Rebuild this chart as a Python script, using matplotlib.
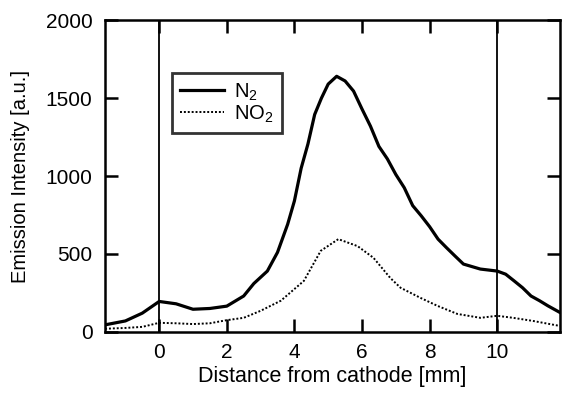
import matplotlib
matplotlib.use("Agg")
import matplotlib.pyplot as plt
import numpy as np

plt.rcParams['font.family'] = ['Liberation Sans', 'DejaVu Sans']
plt.rcParams['mathtext.fontset'] = 'custom'
plt.rcParams['mathtext.rm'] = 'Liberation Sans'

# N2 emission profile
n2_x = [-1.6, -1.0, -0.5, 0, 0.5, 1, 1.5, 2, 2.5, 2.8, 3.2, 3.5, 3.8, 4, 4.2, 4.4, 4.6, 4.8,
        5, 5.25, 5.5, 5.75, 6, 6.25, 6.5, 6.75, 7, 7.25, 7.5, 7.75, 8, 8.25, 8.5, 8.75,
        9, 9.5, 10, 10.25, 10.5, 10.75, 11, 11.25, 11.5, 11.85]
n2_y = [45, 70, 120, 195, 180, 145, 150, 165, 230, 310, 390, 510, 690, 840, 1050, 1205, 1395, 1500,
        1590, 1640, 1610, 1545, 1430, 1320, 1190, 1110, 1010, 925, 810, 745, 675, 595, 540, 487,
        435, 403, 390, 370, 327, 283, 230, 200, 167, 125]

# NO2 emission profile
no2_x = [-1.6, -1.0, -0.5, 0, 0.5, 1, 1.5, 2, 2.5, 3, 3.6, 4.28, 4.78, 5.3, 5.87, 6.34, 6.84,
         7.14, 7.73, 8.23, 8.82, 9.5, 10, 10.47, 11.06, 11.85]
no2_y = [20, 25, 32, 58, 55, 50, 55, 75, 90, 135, 200, 327, 520, 595, 550, 475, 345,
         283, 218, 167, 115, 90, 103, 90, 70, 38]

xticks = [0, 2, 4, 6, 8, 10]
yticks = [0, 500, 1000, 1500, 2000]
marker_lines = [0, 10]

fig = plt.figure(figsize=(5.62, 3.96), dpi=100)
ax = fig.add_axes([0.187, 0.162, 0.809, 0.787])

for xv in marker_lines:
    ax.axvline(xv, color='black', lw=1.3, zorder=1)

ax.plot(n2_x, n2_y, color='black', lw=2.3, label='N$_2$', zorder=3)
ax.plot(no2_x, no2_y, color='black', lw=1.4, ls=(0, (1, 1)), label='NO$_2$', zorder=3)

ax.set_xlim(-1.6, 11.85)
ax.set_ylim(0, 2000)
ax.set_xticks(xticks)
ax.set_yticks(yticks)
ax.tick_params(axis='y', pad=9)
ax.tick_params(axis='x', pad=8)
ax.tick_params(direction='in', length=9.5, width=1.8, labelsize=15,
               top=True, right=True, labelright=False, labeltop=False)
for s in ax.spines.values():
    s.set_linewidth(1.8)

ax.set_xlabel('Distance from cathode [mm]', fontsize=15.5, labelpad=3)
ax.set_ylabel('Emission Intensity [a.u.]', fontsize=14.5, labelpad=11)

leg = ax.legend(loc='upper left', bbox_to_anchor=(0.147, 0.83), fontsize=14.5,
                frameon=True, fancybox=False, handlelength=2.2, borderpad=0.4,
                labelspacing=0.05, handletextpad=0.5, borderaxespad=0)
leg.get_frame().set_edgecolor('black')
leg.get_frame().set_linewidth(2.0)

fig.savefig('out.png', dpi=100)
